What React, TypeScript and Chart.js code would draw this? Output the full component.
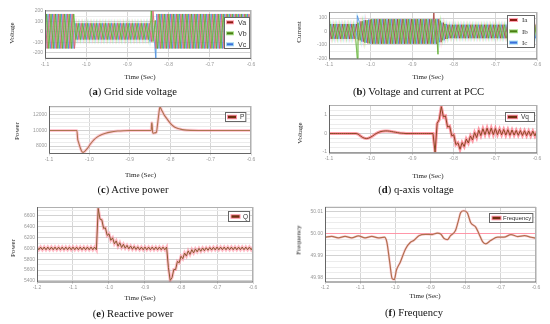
import React, { useEffect, useRef } from "react";
import { Chart, registerables } from "chart.js";

Chart.register(...registerables);

const FONT_SANS = "'Liberation Sans', Arial, sans-serif";
const FONT_SERIF = "'Liberation Serif', 'Times New Roman', serif";

// ---------------- data ----------------
const WAVE_HALF = 0.0055; // time between successive peaks of one phase (as dense as drawn)
const RIPPLE_STEP = 0.005; // ripple sample step

const X_TICKS_SHORT = [-1.1, -1.0, -0.9, -0.8, -0.7, -0.6];
const X_TICKS_LONG = [-1.2, -1.1, -1.0, -0.9, -0.8, -0.7, -0.6];

// (a) Grid side voltage: peak levels per time segment (segment ends at V_SEG_END)
const V_SEG_END = [-1.027, -0.846, -0.832, -0.6];
const V_SEG_POS = [172, 82, 110, 172];
const V_SEG_NEG = [-162, -76, -95, -162];
const VA_SPIKE_T = [-0.838];
const VA_SPIKE_V = [200];
const VB_SPIKE_T = [-0.842];
const VB_SPIKE_V = [205];
const VC_SPIKE_T = [-0.831];
const VC_SPIKE_V = [-255];

// (b) Current at PCC: peak levels per time segment
const I_SEG_END = [-1.032, -1.024, -1.016, -1.008, -1.0, -0.836, -0.829, -0.822, -0.815, -0.6];
const I_SEG_POS = [55, 66, 76, 84, 89, 92, 80, 66, 56, 50];
const I_SEG_NEG = [-55, -66, -76, -84, -89, -92, -80, -66, -56, -50];
const IA_SPIKE_T = [-0.848];
const IA_SPIKE_V = [150];
const IB_SPIKE_T = [-1.032, -0.838];
const IB_SPIKE_V = [-200, -170];
const IC_SPIKE_T = [-1.032];
const IC_SPIKE_V = [118];

// (c) Active power
const P_T = [-1.1, -1.031, -1.029, -1.027, -1.022, -1.018, -1.015, -1.012, -1.005, -0.997, -0.989, -0.981,
  -0.973, -0.96, -0.948, -0.93, -0.915, -0.9, -0.847, -0.846, -0.845, -0.8435, -0.842, -0.838, -0.834,
  -0.832, -0.829, -0.826, -0.825, -0.822, -0.816, -0.808, -0.8, -0.792, -0.784, -0.775, -0.765, -0.75, -0.73, -0.6];
const P_V = [10000, 10000, 8900, 8500, 7700, 7250, 7200, 7300, 7700, 8300, 8800, 9150,
  9400, 9650, 9800, 9930, 9980, 10000, 10000, 10900, 11000, 9800, 9650, 9700, 9800,
  10500, 11800, 12900, 13000, 12700, 12100, 11500, 10950, 10550, 10320, 10180, 10080, 10020, 10000, 10000];

// (d) q-axis voltage, sampled every 5 ms from -1.1
const VQ_T0 = -1.1;
const VQ = [0, 0, 0, 0, 0, 0, 0, 0, 0, 0, 0, 0, 0, 0,
  -0.03, -0.12, -0.2, -0.25, -0.27, -0.25, -0.2, -0.13, -0.05, 0.02, 0.07, 0.11, 0.13, 0.14, 0.14,
  0.13, 0.11, 0.09, 0.07, 0.05, 0.03, 0.02, 0.01,
  0, 0, 0, 0, 0, 0, 0, 0, 0, 0, 0, 0, 0, 0,
  -1.0, 0.55, 0.75, 1.45, 0.9, 0.95, 0.35, 0.4, -0.12, -0.07, -0.6, -0.5, -0.85, -0.49, -0.7, -0.3,
  -0.51, -0.13, -0.35, 0.05, -0.22, 0.18, -0.11, 0.26, -0.06, 0.29, -0.05, 0.29, -0.06, 0.27, -0.06,
  0.235, -0.07, 0.22, -0.085, 0.21, -0.095, 0.19, -0.085, 0.17, -0.095, 0.16, -0.105, 0.15, -0.115,
  0.14, -0.125, 0.13, -0.13, 0.13];

// (e) Reactive power, sampled every 5 ms from -1.2
const Q_T0 = -1.2;
const Q = [6025, 5975, 6025, 5975, 6025, 5975, 6025, 5975, 6025, 5975, 6025, 5975, 6025, 5975, 6025, 5975, 6025,
  5975, 6025, 5975, 6025, 5975, 6025, 5975, 6025, 5975, 6025, 5975, 6025, 5975, 6025, 5975, 6025, 5975,
  6740, 6540, 6530, 6370, 6380, 6240, 6270, 6150, 6195, 6085, 6140, 6040, 6105, 6017, 6077, 6004, 6057,
  5991, 6046, 5984, 6037, 5981, 6029, 5975,
  6025, 5975, 6025, 5975, 6025, 5975, 6025, 5975, 6025, 5975, 6025, 5975, 6025, 5975, 6025,
  5650, 5410, 5460, 5610, 5610, 5760, 5735, 5855, 5810, 5915, 5858, 5955, 5890, 5977, 5917, 5990, 5937,
  6002, 5947, 6009, 5957, 6013, 5966, 6018, 5970, 6022, 5973,
  6025, 5975, 6025, 5975, 6025, 5975, 6025, 5975, 6025, 5975, 6025, 5975, 6025, 5975, 6025, 5975, 6025,
  5975, 6025, 5975, 6025];

// (f) Frequency
const FREQ_T = [-1.2, -1.181, -1.162, -1.143, -1.124, -1.105, -1.086, -1.067, -1.048, -1.031, -1.024, -1.016,
  -1.009, -1.003, -0.997, -0.986, -0.971, -0.957, -0.948, -0.933, -0.914, -0.895, -0.881, -0.871, -0.862,
  -0.852, -0.843, -0.829, -0.822, -0.814, -0.805, -0.795, -0.786, -0.771, -0.762, -0.752, -0.743, -0.729,
  -0.709, -0.691, -0.671, -0.652, -0.633, -0.614, -0.6];
const FREQ_V = [49.9985, 49.9989, 49.9982, 49.9989, 49.9982, 49.9991, 49.9982, 49.9989, 49.9982, 49.9985,
  49.9962, 49.9872, 49.9797, 49.9793, 49.9835, 49.9872, 49.9932, 49.9962, 49.997, 49.9992, 49.9998, 49.9997,
  50.0004, 50.0, 49.998, 49.9974, 49.9992, 50.0015, 50.0052, 50.0097, 50.0105, 50.0095, 50.0052, 50.003,
  50.0, 49.9965, 49.9955, 49.997, 49.9985, 49.9985, 49.9997, 49.9988, 49.9992, 49.9985, 49.998];

// y tick values
const VOLT_MAJOR = [-200, -100, 0, 100, 200];
const VOLT_MINOR = [-250, -150, -50, 50, 150];
const CUR_MAJOR = [-200, -100, 0, 100];
const CUR_MINOR = [-150, -50, 50];
const P_MAJOR = [8000, 10000, 12000];
const P_MINOR = [7500, 8500, 9000, 9500, 10500, 11000, 11500, 12500, 13000];
const VQ_MAJOR = [-1, 0, 1];
const VQ_MINOR = [-0.75, -0.5, -0.25, 0.25, 0.5, 0.75, 1.25, 1.5];
const Q_MAJOR = [5400, 5600, 5800, 6000, 6200, 6400, 6600];
const Q_MINOR = [5500, 5700, 5900, 6100, 6300, 6500, 6700];
const F_MAJOR = [49.98, 49.99, 50.0, 50.01];
const F_MINOR = [49.9825, 49.985, 49.9875, 49.9925, 49.995, 49.9975, 50.0025, 50.005, 50.0075, 50.0125];

// ---------------- helpers ----------------
type Pt = { x: number; y: number };

// one phase: successive peaks alternate between the positive and negative level of the segment they fall in
function waveform(
  t0: number, t1: number, shift: number, parity: number,
  segEnd: number[], segPos: number[], segNeg: number[], spikeT: number[], spikeV: number[]
): Pt[] {
  const pts: Pt[] = [];
  for (let k = 0; ; k++) {
    const t = t0 + shift + k * WAVE_HALF;
    if (t > t1 + WAVE_HALF) break;
    let s = segEnd.findIndex((e) => t <= e);
    if (s < 0) s = segEnd.length - 1;
    pts.push({ x: t, y: (k + parity) % 2 === 0 ? segPos[s] : segNeg[s] });
  }
  spikeT.forEach((t, i) => pts.push({ x: t, y: spikeV[i] }));
  return pts.sort((a, b) => a.x - b.x);
}
function sampled(t0: number, values: number[]): Pt[] {
  return values.map((v, k) => ({ x: t0 + k * RIPPLE_STEP, y: v }));
}
function paired(ts: number[], vs: number[]): Pt[] {
  return ts.map((t, i) => ({ x: t, y: vs[i] }));
}
function line(label: string, data: Pt[], color: string, width: number, order: number, smooth = false) {
  return {
    label, data, borderColor: color, borderWidth: width, pointRadius: 0, fill: false,
    tension: smooth ? 0.4 : 0, cubicInterpolationMode: smooth ? "monotone" : "default", order,
  };
}

const RED = { core: "#cf4458", halo: "rgba(255,160,180,0.55)", fill: "#8c1c12", edge: "#ff9fb0" };
const GREEN = { core: "#4b9a1c", halo: "rgba(150,225,110,0.55)", fill: "#4b7d12", edge: "#a8e08a" };
const BLUE = { core: "#3c78d8", halo: "rgba(150,220,245,0.6)", fill: "#3b6fdc", edge: "#9fd8f0" };
const BROWN_FILL = "#6e2e0e";
const PINK_EDGE = "#ff8fa3";

const H3 = WAVE_HALF / 3;
const VA_PTS = waveform(-1.1, -0.6, 0, 0, V_SEG_END, V_SEG_POS, V_SEG_NEG, VA_SPIKE_T, VA_SPIKE_V);
const VB_PTS = waveform(-1.1, -0.6, -H3, 1, V_SEG_END, V_SEG_POS, V_SEG_NEG, VB_SPIKE_T, VB_SPIKE_V);
const VC_PTS = waveform(-1.1, -0.6, -2 * H3, 0, V_SEG_END, V_SEG_POS, V_SEG_NEG, VC_SPIKE_T, VC_SPIKE_V);
const IA_PTS = waveform(-1.1, -0.6, 0, 0, I_SEG_END, I_SEG_POS, I_SEG_NEG, IA_SPIKE_T, IA_SPIKE_V);
const IB_PTS = waveform(-1.1, -0.6, -H3, 1, I_SEG_END, I_SEG_POS, I_SEG_NEG, IB_SPIKE_T, IB_SPIKE_V);
const IC_PTS = waveform(-1.1, -0.6, -2 * H3, 0, I_SEG_END, I_SEG_POS, I_SEG_NEG, IC_SPIKE_T, IC_SPIKE_V);

type LegendCfg = {
  items: { label: string; fill: string; edge: string }[];
  font: string; width: number; height: number; first: number; rowH: number;
  rightGap: number; topGap: number; padL: number; swW: number; swH: number; gap: number;
};

type Spec = {
  key: string;
  plot: [number, number, number, number];
  xMin: number; xMax: number; xTicks: number[];
  yMin: number; yMax: number; yMajor: number[]; yMinor: number[]; yDec: number;
  accent?: { value: number; color: string };
  datasets: any[];
  legend: LegendCfg;
};

const WCORE = 0.6;
const WHALO = 1.4;

const SPECS: Spec[] = [
  {
    key: "a", plot: [45, 10, 251, 58.5], xMin: -1.1, xMax: -0.6, xTicks: X_TICKS_SHORT,
    yMin: -258, yMax: 210, yMajor: VOLT_MAJOR, yMinor: VOLT_MINOR, yDec: 0,
    datasets: [
      line("Vb", VB_PTS, GREEN.core, WCORE, 0), line("Vb-h", VB_PTS, GREEN.halo, WHALO, 1),
      line("Va", VA_PTS, RED.core, WCORE, 2), line("Va-h", VA_PTS, RED.halo, WHALO, 3),
      line("Vc", VC_PTS, BLUE.core, WCORE, 4), line("Vc-h", VC_PTS, BLUE.halo, WHALO, 5),
    ],
    legend: {
      items: [{ label: "Va", fill: RED.fill, edge: RED.edge }, { label: "Vb", fill: GREEN.fill, edge: GREEN.edge }, { label: "Vc", fill: BLUE.fill, edge: BLUE.edge }],
      font: `7px ${FONT_SANS}`, width: 26, height: 32, first: 5.3, rowH: 11, rightGap: 1, topGap: 6.7, padL: 2, swW: 8, swH: 4, gap: 4,
    },
  },
  {
    key: "b", plot: [329, 12, 537, 59], xMin: -1.1, xMax: -0.6, xTicks: X_TICKS_SHORT,
    yMin: -205, yMax: 145, yMajor: CUR_MAJOR, yMinor: CUR_MINOR, yDec: 0,
    datasets: [
      line("Ib", IB_PTS, GREEN.core, WCORE, 0), line("Ib-h", IB_PTS, GREEN.halo, WHALO, 1),
      line("Ia", IA_PTS, "#8c2a1a", WCORE, 2), line("Ia-h", IA_PTS, RED.halo, WHALO, 3),
      line("Ic", IC_PTS, BLUE.core, WCORE, 4), line("Ic-h", IC_PTS, BLUE.halo, WHALO, 5),
    ],
    legend: {
      items: [{ label: "Ia", fill: RED.fill, edge: RED.edge }, { label: "Ib", fill: GREEN.fill, edge: GREEN.edge }, { label: "Ic", fill: BLUE.fill, edge: BLUE.edge }],
      font: `7px ${FONT_SERIF}`, width: 28, height: 33, first: 5, rowH: 11.3, rightGap: 2, topGap: 3, padL: 2, swW: 9, swH: 4, gap: 4,
    },
  },
  {
    key: "c", plot: [49, 106, 251, 153.5], xMin: -1.1, xMax: -0.6, xTicks: X_TICKS_SHORT,
    yMin: 7050, yMax: 13150, yMajor: P_MAJOR, yMinor: P_MINOR, yDec: 0,
    datasets: [
      line("P", paired(P_T, P_V), "#ad7450", 1.1, 0, true),
      line("P-h", paired(P_T, P_V), "rgba(255,150,170,0.5)", 3, 1, true),
    ],
    legend: {
      items: [{ label: "P", fill: BROWN_FILL, edge: PINK_EDGE }],
      font: `6.5px ${FONT_SANS}`, width: 21, height: 10, first: 5, rowH: 10, rightGap: 5, topGap: 5.7, padL: 2, swW: 10, swH: 4.5, gap: 3,
    },
  },
  {
    key: "d", plot: [329, 105, 537, 153], xMin: -1.1, xMax: -0.6, xTicks: X_TICKS_SHORT,
    yMin: -1.05, yMax: 1.54, yMajor: VQ_MAJOR, yMinor: VQ_MINOR, yDec: 0,
    datasets: [
      line("Vq", sampled(VQ_T0, VQ), "#8a4a24", 1, 0),
      line("Vq-h", sampled(VQ_T0, VQ), "rgba(255,90,110,0.6)", 3, 1),
    ],
    legend: {
      items: [{ label: "Vq", fill: BROWN_FILL, edge: PINK_EDGE }],
      font: `6.5px ${FONT_SANS}`, width: 30, height: 10, first: 5, rowH: 10, rightGap: 2, topGap: 6.7, padL: 2, swW: 11, swH: 4.5, gap: 3,
    },
  },
  {
    key: "e", plot: [37, 207, 253, 282], xMin: -1.2, xMax: -0.6, xTicks: X_TICKS_LONG,
    yMin: 5380, yMax: 6765, yMajor: Q_MAJOR, yMinor: Q_MINOR, yDec: 0,
    datasets: [
      line("Q", sampled(Q_T0, Q), "#8a5a30", 1, 0),
      line("Q-h", sampled(Q_T0, Q), "rgba(255,130,150,0.55)", 3, 1),
    ],
    legend: {
      items: [{ label: "Q", fill: BROWN_FILL, edge: PINK_EDGE }],
      font: `6.5px ${FONT_SANS}`, width: 22, height: 11, first: 5.5, rowH: 11, rightGap: 3, topGap: 4, padL: 2.5, swW: 10, swH: 4.5, gap: 2.5,
    },
  },
  {
    key: "f", plot: [325, 207, 536, 282], xMin: -1.2, xMax: -0.6, xTicks: X_TICKS_LONG,
    yMin: 49.9782, yMax: 50.0122, yMajor: F_MAJOR, yMinor: F_MINOR, yDec: 2,
    accent: { value: 50.0, color: "rgba(255,140,160,0.9)" },
    datasets: [
      line("Frequency", paired(FREQ_T, FREQ_V), "#b0704e", 1.2, 0, true),
      line("Frequency-h", paired(FREQ_T, FREQ_V), "rgba(255,170,185,0.5)", 2.5, 1, true),
    ],
    legend: {
      items: [{ label: "Frequency", fill: BROWN_FILL, edge: PINK_EDGE }],
      font: `6px ${FONT_SANS}`, width: 44, height: 10, first: 5, rowH: 10, rightGap: 3, topGap: 6.3, padL: 2.5, swW: 10, swH: 4.5, gap: 1.5,
    },
  },
];

const PAD_L = 34;
const PAD_T = 6;
const PAD_R = 8;
const PAD_B = 12;

const near = (list: number[], v: number) => list.some((m) => Math.abs(m - v) < 1e-7);

function makeFrame() {
  return {
    id: "frame",
    afterDraw(chart: any) {
      const { ctx, chartArea: a } = chart;
      ctx.save();
      ctx.lineWidth = 1;
      ctx.strokeStyle = "#b0b0b0";
      ctx.beginPath();
      ctx.moveTo(a.left, a.top + 0.5);
      ctx.lineTo(a.right, a.top + 0.5);
      ctx.moveTo(a.right - 0.5, a.top);
      ctx.lineTo(a.right - 0.5, a.bottom);
      ctx.stroke();
      ctx.strokeStyle = "#666";
      ctx.beginPath();
      ctx.moveTo(a.left + 0.5, a.top);
      ctx.lineTo(a.left + 0.5, a.bottom);
      ctx.lineTo(a.right, a.bottom);
      ctx.stroke();
      ctx.restore();
    },
  };
}

function makeLegend(cfg: LegendCfg) {
  return {
    id: "boxLegend",
    afterDraw(chart: any) {
      const { ctx, chartArea: a } = chart;
      ctx.save();
      ctx.font = cfg.font;
      const textW = Math.max(...cfg.items.map((i) => ctx.measureText(i.label).width));
      const w = Math.max(cfg.width, cfg.padL + cfg.swW + cfg.gap + textW + 2);
      const x = Math.round(a.right - cfg.rightGap - w);
      const y = Math.round(a.top + cfg.topGap);
      ctx.fillStyle = "#fff";
      ctx.fillRect(x, y, w, cfg.height);
      ctx.strokeStyle = "#666";
      ctx.lineWidth = 1;
      ctx.strokeRect(x + 0.5, y + 0.5, w - 1, cfg.height - 1);
      cfg.items.forEach((it, i) => {
        const cy = y + cfg.first + i * cfg.rowH;
        const sx = x + cfg.padL;
        const sy = cy - cfg.swH / 2;
        ctx.fillStyle = it.edge;
        ctx.fillRect(sx, sy, cfg.swW, cfg.swH);
        ctx.fillStyle = it.fill;
        ctx.fillRect(sx + 1, sy + 1, cfg.swW - 2, cfg.swH - 2);
        ctx.fillStyle = "#333";
        ctx.textBaseline = "middle";
        ctx.textAlign = "left";
        ctx.fillText(it.label, sx + cfg.swW + cfg.gap, cy + 0.5);
      });
      ctx.restore();
    },
  };
}

function Panel({ spec }: { spec: Spec }) {
  const ref = useRef<HTMLCanvasElement | null>(null);
  const [l, t, r, b] = spec.plot;
  const plotW = Math.round(r - l);
  const W = plotW + PAD_L + PAD_R;
  const H = Math.ceil(b - t) + PAD_T + PAD_B;
  const xAxisH = H - PAD_T - (b - t);

  useEffect(() => {
    if (!ref.current) return;
    const tickFont = { size: 5, family: FONT_SANS };
    const chart = new Chart(ref.current, {
      type: "line",
      data: { datasets: spec.datasets },
      plugins: [makeFrame(), makeLegend(spec.legend)],
      options: {
        responsive: false,
        animation: false,
        events: [],
        layout: { padding: { left: 0, top: PAD_T, right: PAD_R, bottom: 0 } },
        plugins: { legend: { display: false }, tooltip: { enabled: false }, title: { display: false } },
        scales: {
          x: {
            type: "linear",
            min: spec.xMin,
            max: spec.xMax,
            afterBuildTicks: (s: any) => { s.ticks = spec.xTicks.map((v) => ({ value: v })); },
            afterFit: (s: any) => { s.height = xAxisH; },
            ticks: {
              autoSkip: false, maxRotation: 0, minRotation: 0, padding: 1, font: tickFont, color: "#999",
              callback: (v: any) => Number(v).toFixed(1),
            },
            grid: { color: "#d6d6d6", lineWidth: 1, tickLength: 2, drawTicks: true },
            border: { display: false },
          },
          y: {
            type: "linear",
            min: spec.yMin,
            max: spec.yMax,
            afterBuildTicks: (s: any) => {
              s.ticks = [...spec.yMajor, ...spec.yMinor].sort((p, q) => p - q).map((v) => ({ value: v }));
            },
            afterFit: (s: any) => { s.width = PAD_L; },
            ticks: {
              autoSkip: false, padding: 2, font: tickFont, color: "#999",
              callback: (v: any) => (near(spec.yMajor, Number(v)) ? Number(v).toFixed(spec.yDec) : ""),
            },
            grid: {
              drawTicks: false,
              lineWidth: 1,
              color: (c: any) => {
                const v = c.tick ? c.tick.value : NaN;
                if (spec.accent && Math.abs(v - spec.accent.value) < 1e-7) return spec.accent.color;
                return near(spec.yMajor, v) ? "#d2d2d2" : "#ececec";
              },
            },
            border: { display: false },
          },
        },
      } as any,
    } as any);
    return () => chart.destroy();
  }, []);

  return (
    <canvas
      ref={ref}
      width={W}
      height={H}
      style={{ position: "absolute", left: l - PAD_L, top: t - PAD_T, width: W, height: H }}
    />
  );
}

type Txt = { text: string; x: number; y: number; size: number; rotate?: boolean };

const TITLES: Txt[] = [
  { text: "Voltage", x: 12, y: 33, size: 7, rotate: true },
  { text: "Time (Sec)", x: 140, y: 77, size: 7 },
  { text: "Current", x: 299, y: 32, size: 7, rotate: true },
  { text: "Time (Sec)", x: 428, y: 77, size: 7 },
  { text: "Power", x: 17, y: 131, size: 7, rotate: true },
  { text: "Time (Sec)", x: 140.5, y: 175, size: 7 },
  { text: "Voltage", x: 300, y: 133, size: 7, rotate: true },
  { text: "Time (Sec)", x: 428, y: 176, size: 7 },
  { text: "Power", x: 13, y: 248, size: 7, rotate: true },
  { text: "Time (Sec)", x: 140, y: 298, size: 7 },
  { text: "Frequency", x: 299, y: 240, size: 7, rotate: true },
  { text: "Time (Sec)", x: 425, y: 296, size: 7 },
];

const CAPTIONS: { letter: string; text: string; x: number; y: number }[] = [
  { letter: "a", text: "Grid side voltage", x: 133, y: 92 },
  { letter: "b", text: "Voltage and current at PCC", x: 418.5, y: 92 },
  { letter: "c", text: "Active power", x: 133, y: 189.5 },
  { letter: "d", text: "q-axis voltage", x: 416, y: 190 },
  { letter: "e", text: "Reactive power", x: 133, y: 314 },
  { letter: "f", text: "Frequency", x: 414, y: 313 },
];

export default function App() {
  return (
    <div style={{ position: "absolute", left: 0, top: 0, width: 550, height: 324, background: "#fff", overflow: "hidden" }}>
      {SPECS.map((s) => (
        <Panel key={s.key} spec={s} />
      ))}
      {TITLES.map((t, i) => (
        <div
          key={"t" + i}
          style={{
            position: "absolute", left: t.x, top: t.y, fontFamily: FONT_SERIF, fontSize: t.size, color: "#222",
            whiteSpace: "nowrap", lineHeight: 1,
            transform: t.rotate ? "translate(-50%,-50%) rotate(-90deg)" : "translate(-50%,-50%)",
          }}
        >
          {t.text}
        </div>
      ))}
      {CAPTIONS.map((c) => (
        <div
          key={c.letter}
          style={{
            position: "absolute", left: c.x, top: c.y, fontFamily: FONT_SERIF, fontSize: 10.6, color: "#111",
            whiteSpace: "nowrap", lineHeight: 1, transform: "translate(-50%,-50%)",
          }}
        >
          (<b>{c.letter}</b>) {c.text}
        </div>
      ))}
    </div>
  );
}
